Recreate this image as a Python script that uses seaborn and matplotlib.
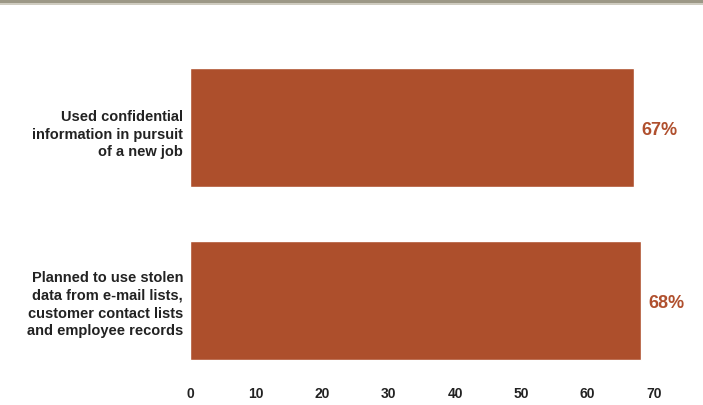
import matplotlib
matplotlib.use("Agg")
import matplotlib.pyplot as plt
import matplotlib.transforms as mtransforms
from matplotlib.patches import Rectangle
import pandas as pd
import seaborn as sns

categories = [
    "Used confidential\ninformation in pursuit\nof a new job",
    "Planned to use stolen\ndata from e-mail lists,\ncustomer contact lists\nand employee records",
]
values = [67, 68]
x_ticks = [0, 10, 20, 30, 40, 50, 60, 70]

df = pd.DataFrame({"category": categories, "value": values})

sns.set_theme(style="white")
plt.rcParams["font.family"] = ["Liberation Sans", "DejaVu Sans"]

bar_color = "#ad4f2c"
fig = plt.figure(figsize=(7.03, 4.06), dpi=100)
fig.patch.set_facecolor("white")
ax = fig.add_axes([190 / 703, 1 - 375 / 406, 464 / 703, 325 / 406])

sns.barplot(data=df, x="value", y="category", orient="h", color=bar_color,
            saturation=1, width=0.688, ax=ax)

ax.set_xlim(0, 70)
ax.set_ylim(1.425, -0.454)
ax.set_xticks(x_ticks)
ax.set_xticklabels([str(t) for t in x_ticks], fontsize=10, fontweight="bold", color="#222222")
ax.set_yticks(range(len(categories)))
ax.set_yticklabels(categories, fontsize=10.5, fontweight="bold", color="#222222",
                   linespacing=1.33, ha="right")
ax.tick_params(axis="x", length=0, pad=9)
ax.tick_params(axis="y", length=0, pad=5)
ax.set_xlabel("")
ax.set_ylabel("")
for s in ax.spines.values():
    s.set_visible(False)

# nudge the first category label slightly downward
first = ax.get_yticklabels()[0]
first.set_transform(first.get_transform() +
                    mtransforms.ScaledTranslation(0, -3 / 100, fig.dpi_scale_trans))

for i, v in enumerate(values):
    ax.text(v + 1.1, i + 0.012, f"{v}%", va="center", ha="left", fontsize=13,
            fontweight="bold", color="#b0502e")

# header band along the top edge
fig.add_artist(Rectangle((0, 1 - 4 / 406), 1, 4 / 406, transform=fig.transFigure,
                         facecolor="#9c9886", edgecolor="none"))
fig.add_artist(Rectangle((0, 1 - 6 / 406), 1, 2 / 406, transform=fig.transFigure,
                         facecolor="#cfccc0", edgecolor="none"))

fig.savefig("out.png", dpi=100)
